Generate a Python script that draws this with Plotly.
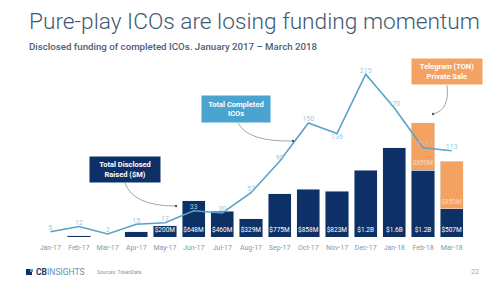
import plotly.graph_objects as go

months = ["Jan-17", "Feb-17", "Mar-17", "Apr-17", "May-17", "Jun-17", "Jul-17", "Aug-17",
          "Sep-17", "Oct-17", "Nov-17", "Dec-17", "Jan-18", "Feb-18", "Mar-18"]
funding_m = [0, 20, 0, 92, 200, 648, 460, 329, 775, 858, 823, 1200, 1600, 1200, 507]
funding_labels = ["", "", "", "", "$200M", "$648M", "$460M", "$329M", "$775M", "$858M",
                  "$823M", "$1.2B", "$1.6B", "$1.2B", "$507M"]
telegram_m = [None] * 13 + [850, 850]
telegram_labels = [""] * 13 + ["$850M", "$850M"]
icos = [5, 12, 2, 15, 17, 33, 30, 57, 99, 150, 136, 215, 170, 117, 113]
ico_label_pos = ["top center"] * 10 + ["bottom center"] + ["top center"] * 4

W, H = 500, 294
L, R, T, B = 28, 26, 57, 57
PW, PH = W - L - R, H - T - B


def px(x):
    return (x - L) / PW


def py(y):
    return (H - B - y) / PH


NAVY = "#0d3166"
ORANGE = "#f3a262"
LINE = "#5aa3c6"
LBLUE = "#4ba3cf"

fig = go.Figure()
fig.add_trace(go.Bar(
    x=months, y=funding_m, marker_color=NAVY, text=funding_labels,
    textposition="inside", insidetextanchor="start", constraintext="none",
    textfont=dict(size=6.5, color="white", family="Roboto"), textangle=0,
    hoverinfo="skip", showlegend=False))
fig.add_trace(go.Bar(
    x=months, y=telegram_m, marker_color=ORANGE, text=telegram_labels,
    textposition="inside", insidetextanchor="start", constraintext="none",
    textfont=dict(size=6.5, color="#fbd9bb", family="Roboto"), textangle=0,
    hoverinfo="skip", showlegend=False))
fig.add_trace(go.Scatter(
    x=months, y=icos, yaxis="y2", mode="lines+text", text=[str(v) for v in icos],
    textposition=ico_label_pos, textfont=dict(size=7, color="#9ccbe2", family="Roboto"),
    line=dict(color=LINE, width=1.6), hoverinfo="skip", showlegend=False))

fig.update_layout(
    width=W, height=H, margin=dict(l=L, r=R, t=T, b=B),
    paper_bgcolor="white", plot_bgcolor="white",
    barmode="stack", bargap=0.19,
    xaxis=dict(showgrid=False, zeroline=False, showline=False, ticks="", ticklabelstandoff=5,
               tickfont=dict(size=7, color="#8b97a3", family="Roboto")),
    yaxis=dict(range=[0, 3225], visible=False),
    yaxis2=dict(range=[-2, 238], overlaying="y", visible=False),
    font=dict(family="Roboto"),
)

# Title and subtitle
fig.add_annotation(text="Pure-play ICOs are losing funding momentum", xref="paper", yref="paper",
                   x=px(27), y=py(21), xanchor="left", yanchor="middle", showarrow=False,
                   font=dict(size=22.7, color="#3e5a73", family="Roboto", weight=300))
fig.add_annotation(text="Disclosed funding of completed ICOs. January 2017 \u2013 March 2018",
                   xref="paper", yref="paper", x=px(27), y=py(46), xanchor="left", yanchor="middle",
                   showarrow=False, font=dict(size=9.7, color="#4a6076", family="Roboto", weight=500))

# Callout boxes
boxes = [
    ("<b>Total Disclosed<br>Raised ($M)</b>", 125, 169.5, 70, 25, NAVY),
    ("<b>Total Completed<br>ICOs</b>", 236, 109, 68, 26, LBLUE),
    ("<b>Telegram (TON)<br>Private Sale</b>", 447, 71.5, 70, 25, ORANGE),
]
for txt, cx, cy, bw, bh, col in boxes:
    fig.add_annotation(text=txt, xref="paper", yref="paper", x=px(cx), y=py(cy),
                       xanchor="center", yanchor="middle", showarrow=False, bgcolor=col,
                       width=bw, height=bh, borderpad=0,
                       font=dict(size=7.5, color="white", family="Roboto"))

# Curved connectors
curves = [
    ((125, 183), (133, 206), (176, 206)),
    ((238, 123), (248, 142), (293, 141)),
    ((447, 85), (450, 110), (433, 114)),
]
for (x0, y0), (cx1, cy1), (x1, y1) in curves:
    path = f"M {px(x0)} {py(y0)} Q {px(cx1)} {py(cy1)} {px(x1)} {py(y1)}"
    fig.add_shape(type="path", path=path, xref="paper", yref="paper",
                  line=dict(color="#9aa7b2", width=1))
    fig.add_shape(type="circle", xref="paper", yref="paper",
                  x0=px(x1 - 1.2), x1=px(x1 + 1.2), y0=py(y1 + 1.2), y1=py(y1 - 1.2),
                  fillcolor="#4a5866", line=dict(width=0))

# Footer
fig.add_shape(type="rect", xref="paper", yref="paper", x0=px(26), x1=px(32), y0=py(275), y1=py(269),
              fillcolor=NAVY, line=dict(width=0))
fig.add_shape(type="rect", xref="paper", yref="paper", x0=px(30), x1=px(33), y0=py(272), y1=py(269),
              fillcolor=LBLUE, line=dict(width=0))
fig.add_annotation(text="<b>CB</b><span style='color:#5b8fb8'>INSIGHTS</span>", xref="paper", yref="paper",
                   x=px(34), y=py(272), xanchor="left", yanchor="middle", showarrow=False,
                   font=dict(size=8.5, color="#1d3557", family="Roboto"))
fig.add_annotation(text="Sources: TokenData", xref="paper", yref="paper",
                   x=px(95), y=py(272), xanchor="left", yanchor="middle", showarrow=False,
                   font=dict(size=5, color="#8b97a3", family="Roboto"))
fig.add_annotation(text="22", xref="paper", yref="paper",
                   x=px(481), y=py(272), xanchor="right", yanchor="middle", showarrow=False,
                   font=dict(size=7, color="#9aa5b0", family="Roboto"))

fig.write_html("out.html")
